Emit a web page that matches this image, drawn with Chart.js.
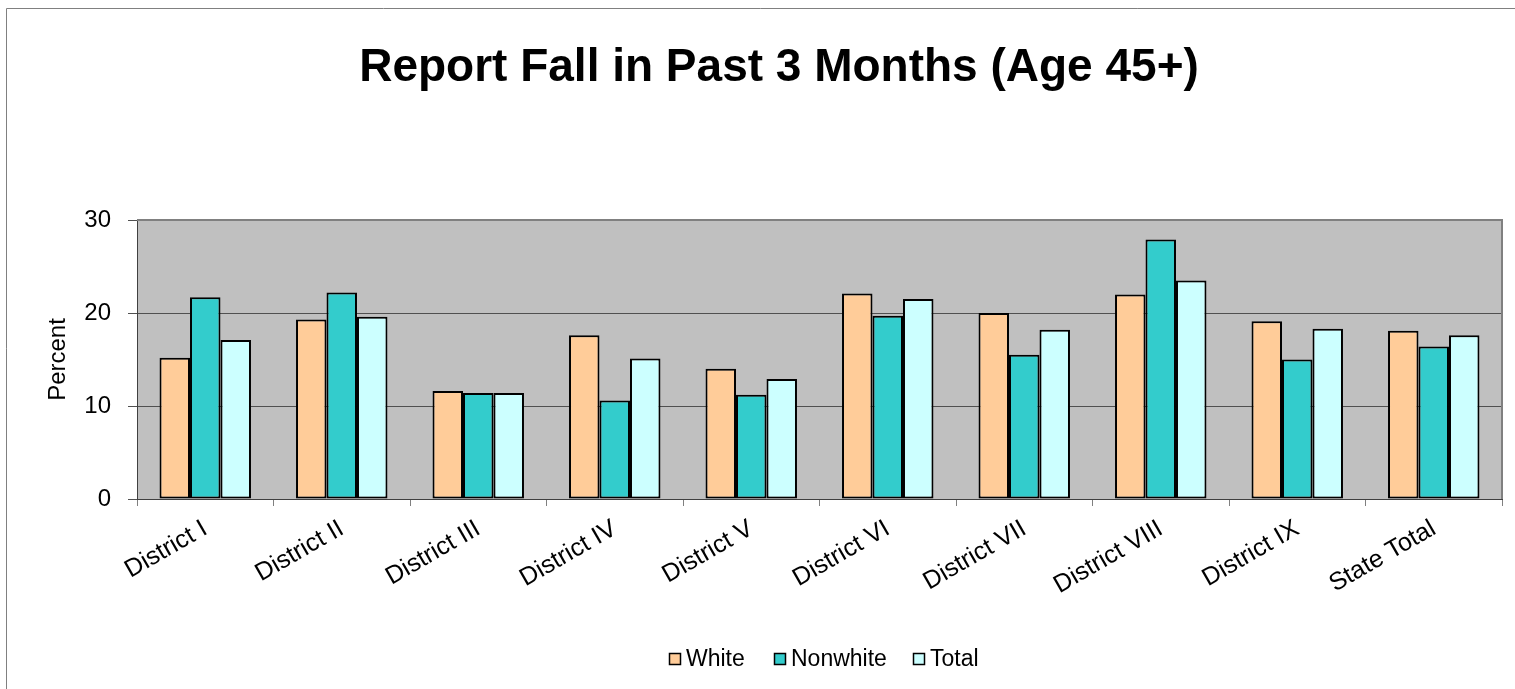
<!DOCTYPE html>
<html>
<head>
<meta charset="utf-8">
<script src="https://cdn.jsdelivr.net/npm/chart.js@4/dist/chart.umd.min.js"></script>
<style>
  html, body { margin: 0; padding: 0; background: #ffffff; }
  #wrap { width: 1515px; height: 689px; }
</style>
</head>
<body>
<div id="wrap"><canvas id="c" width="1515" height="689"></canvas></div>
<script>
const categories = ["District I", "District II", "District III", "District IV", "District V",
                    "District VI", "District VII", "District VIII", "District IX", "State Total"];
const whiteValues    = [15.2, 19.3, 11.6, 17.6, 14.0, 22.1, 20.0, 22.0, 19.1, 18.1];
const nonwhiteValues = [21.7, 22.2, 11.4, 10.6, 11.2, 19.7, 15.5, 27.9, 15.0, 16.4];
const totalValues    = [17.1, 19.6, 11.4, 15.1, 12.9, 21.5, 18.2, 23.5, 18.3, 17.6];
const seriesNames = ["White", "Nonwhite", "Total"];
const seriesColors = ["#FFCC99", "#33CCCC", "#CCFFFF"];
const yTicks = [0, 10, 20, 30];
const chartTitle = "Report Fall in Past 3 Months (Age 45+)";

const FONT = "'Liberation Sans', Arial, sans-serif";

const framePlugin = {
  id: 'frame',
  beforeDraw(chart) {
    const ctx = chart.ctx;
    const a = chart.chartArea;
    ctx.save();
    ctx.strokeStyle = '#808080';
    ctx.lineWidth = 1;
    ctx.beginPath();
    ctx.moveTo(6.5, 689);
    ctx.lineTo(6.5, 8.5);
    ctx.lineTo(1515, 8.5);
    ctx.stroke();
    ctx.fillStyle = '#C0C0C0';
    ctx.fillRect(a.left, a.top, a.right - a.left, a.bottom - a.top);
    ctx.restore();
  },
  afterDatasetsDraw(chart) {
    const ctx = chart.ctx;
    const a = chart.chartArea;
    ctx.save();
    ctx.strokeStyle = '#808080';
    ctx.lineWidth = 2;
    ctx.beginPath();
    ctx.moveTo(a.left, a.top);
    ctx.lineTo(a.right, a.top);
    ctx.lineTo(a.right, a.bottom);
    ctx.stroke();
    ctx.restore();
  },
  afterDraw(chart) {
    const ctx = chart.ctx;
    ctx.save();
    // title
    ctx.fillStyle = '#000000';
    ctx.font = "bold 46px " + FONT;
    ctx.textAlign = 'center';
    ctx.textBaseline = 'alphabetic';
    ctx.fillText(chartTitle, 779, 81);
    // legend
    ctx.font = "23px " + FONT;
    ctx.textAlign = 'left';
    ctx.textBaseline = 'middle';
    const boxX = [669, 774, 913];
    chart.data.datasets.forEach((ds, i) => {
      ctx.fillStyle = ds.backgroundColor;
      ctx.fillRect(boxX[i], 653, 12, 12);
      ctx.strokeStyle = '#000000';
      ctx.lineWidth = 1.5;
      ctx.strokeRect(boxX[i] + 0.5, 653.5, 11, 11);
      ctx.fillStyle = '#000000';
      ctx.fillText(ds.label, boxX[i] + 17, 660);
    });
    ctx.restore();
  }
};

const mk = (i, data) => ({
  label: seriesNames[i], data,
  backgroundColor: seriesColors[i],
  borderColor: '#000000',
  borderWidth: 2,
  borderSkipped: false,
  categoryPercentage: 0.67,
  barPercentage: 1.0
});

new Chart(document.getElementById('c'), {
  type: 'bar',
  data: {
    labels: categories,
    datasets: [ mk(0, whiteValues), mk(1, nonwhiteValues), mk(2, totalValues) ]
  },
  options: {
    responsive: false,
    animation: false,
    layout: { padding: { left: 0, right: 13, top: 220, bottom: 65 } },
    plugins: {
      title: { display: false },
      legend: { display: false },
      tooltip: { enabled: false }
    },
    scales: {
      x: {
        grid: {
          display: true,
          drawOnChartArea: false,
          drawTicks: true,
          tickLength: 7,
          offset: true,
          color: '#808080'
        },
        border: { display: true, color: '#404040', width: 1 },
        ticks: {
          color: '#000000',
          font: { family: FONT, size: 25 },
          maxRotation: 30,
          minRotation: 30,
          autoSkip: false,
          padding: 8
        },
        afterFit(scale) { scale.height = 125; }
      },
      y: {
        min: 0,
        max: 30,
        afterBuildTicks(scale) { scale.ticks = yTicks.map(v => ({ value: v })); },
        grid: {
          display: true,
          drawOnChartArea: true,
          drawTicks: true,
          tickLength: 9,
          color: '#505050',
          lineWidth: 1
        },
        border: { display: true, color: '#404040', width: 1 },
        ticks: {
          color: '#000000',
          font: { family: FONT, size: 24 },
          padding: 17
        },
        title: {
          display: true,
          text: 'Percent',
          color: '#000000',
          font: { family: FONT, size: 24 },
          padding: { top: 44, bottom: 0 }
        },
        afterFit(scale) { scale.width = 137; }
      }
    }
  },
  plugins: [framePlugin]
});
</script>
</body>
</html>
